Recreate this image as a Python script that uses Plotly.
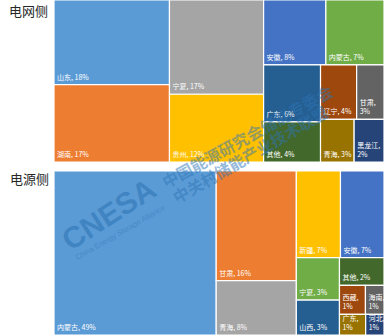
import plotly.graph_objects as go

# 电网侧 (grid side)
names_grid = ["山东", "湖南", "宁夏", "贵州", "安徽", "内蒙古", "广东", "其他", "辽宁", "甘肃", "青海", "黑龙江"]
values_grid = [18.4, 16.8, 16.7, 12.0, 7.6, 7.1, 6.1, 4.3, 3.7, 2.8, 2.7, 2.4]
colors_grid = ["#5B9BD5", "#ED7D31", "#A5A5A5", "#FFC000", "#4472C4", "#70AD47",
               "#255E91", "#43682B", "#9E480E", "#636363", "#997300", "#264478"]
wrap_grid = {"甘肃", "黑龙江"}

# 电源侧 (generation side)
names_src = ["内蒙古", "甘肃", "青海", "新疆", "安徽", "宁夏", "山西", "其他", "西藏", "海南", "广东", "河北"]
values_src = [49.4, 16.3, 8.1, 7.1, 7.0, 3.4, 2.8, 2.3, 1.4, 1.0, 1.0, 0.7]
colors_src = ["#5B9BD5", "#ED7D31", "#A5A5A5", "#FFC000", "#4472C4", "#70AD47",
              "#255E91", "#43682B", "#9E480E", "#636363", "#997300", "#264478"]
wrap_src = {"西藏", "海南", "广东", "河北"}

W, H = 385, 335
FONT = "Noto Sans CJK SC"


def templates(names, wrap):
    return ["%{label},<br>%{value:.0f}%" if n in wrap else "%{label}, %{value:.0f}%" for n in names]


def tm(names, values, colors, wrap, y0, y1):
    return go.Treemap(
        labels=names,
        parents=[""] * len(names),
        values=values,
        sort=False,
        marker=dict(colors=colors, line=dict(color="white", width=1.2),
                    pad=dict(t=0, l=0, r=0, b=0)),
        tiling=dict(packing="squarify", squarifyratio=1, pad=0),
        pathbar=dict(visible=False),
        texttemplate=templates(names, wrap),
        textposition="bottom left",
        textfont=dict(family=FONT, size=7, color="white"),
        hoverinfo="skip",
        domain=dict(x=[54 / W, 384 / W], y=[y0, y1]),
    )


fig = go.Figure()
fig.add_trace(tm(names_grid, values_grid, colors_grid, wrap_grid, 1 - 162 / H, 1.0))
fig.add_trace(tm(names_src, values_src, colors_src, wrap_src, 0.0, 1 - 171 / H))

WM = "rgba(46,117,182,0.5)"
ann = [
    dict(text="电网侧", x=8 / W, y=1.0, xanchor="left", yanchor="top",
         font=dict(family=FONT, size=13, color="#262626"), borderpad=0),
    dict(text="电源侧", x=8 / W, y=1 - 178 / H, xanchor="left", yanchor="middle",
         font=dict(family=FONT, size=13, color="#262626")),
    # watermark
    dict(text="<b>CNESA</b>", x=108 / W, y=1 - 214 / H, textangle=-33,
         font=dict(family="Liberation Sans", size=30, color="rgba(46,117,182,0.6)")),
    dict(text="China Energy Storage Alliance", x=120 / W, y=1 - 232 / H, textangle=-30,
         font=dict(family="Liberation Sans", size=7.5, color=WM)),
    dict(text="<b>中国能源研究会储能专委会</b>", x=247 / W, y=1 - 136 / H, textangle=-29,
         font=dict(family=FONT, size=16, color=WM)),
    dict(text="<b>中关村储能产业技术联盟</b>", x=250 / W, y=1 - 154 / H, textangle=-30,
         font=dict(family=FONT, size=16, color=WM)),
]
for a in ann:
    a.update(xref="paper", yref="paper", showarrow=False)
    a.setdefault("xanchor", "center")
    a.setdefault("yanchor", "middle")

fig.update_layout(
    width=W, height=H,
    margin=dict(l=0, r=0, t=0, b=0),
    paper_bgcolor="white",
    annotations=ann,
    uniformtext=dict(minsize=7, mode="show"),
)

fig.write_html("out.html")
